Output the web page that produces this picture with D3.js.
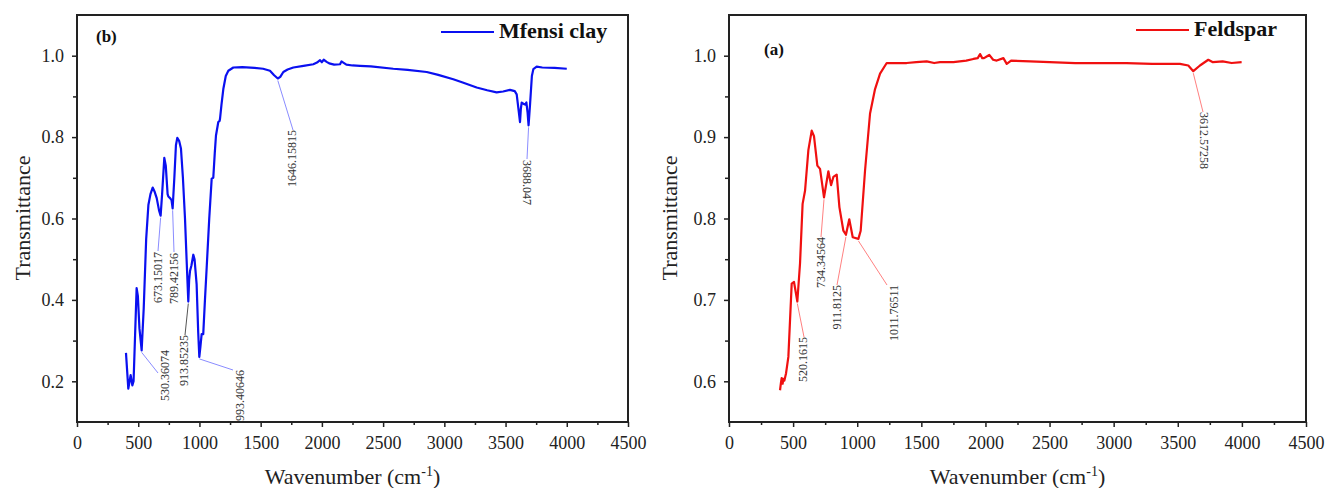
<!DOCTYPE html>
<html lang="en">
  <head>
    <meta charset="utf-8">
    <title>FTIR spectra</title>
    <script src="https://cdn.jsdelivr.net/npm/d3@7"></script>
    <style>
      body { margin: 0; background: #fff; }
      text { font-family: "Liberation Serif", "Times New Roman", serif; }
    </style>
  </head>
  <body>
    <script>
      // Mfensi clay (panel b)
      var clayWave = [400,419,438,452,462,487,497,510,528,545,565,583,600,618,635,651,670,683,695,713,725,740,746,760,772,781,795,808,819,835,849,865,882,895,909,916,923,935,950,960,977,990,999,1008,1018,1031,1045,1059,1080,1100,1113,1125,1135,1154,1165,1168,1180,1195,1215,1236,1277,1350,1450,1520,1576,1610,1640,1660,1685,1720,1767,1850,1930,1960,1985,2000,2015,2039,2060,2100,2148,2160,2175,2200,2250,2311,2400,2583,2700,2856,2950,3073,3150,3264,3350,3427,3480,3536,3575,3591,3605,3618,3625,3632,3645,3659,3670,3680,3688,3700,3715,3727,3754,3800,3900,4000];
      var clayT = [0.27,0.182,0.215,0.19,0.20,0.429,0.41,0.33,0.276,0.38,0.55,0.633,0.66,0.676,0.665,0.65,0.62,0.607,0.66,0.749,0.73,0.66,0.654,0.65,0.645,0.625,0.70,0.78,0.798,0.79,0.772,0.70,0.60,0.50,0.396,0.45,0.471,0.485,0.511,0.50,0.438,0.32,0.26,0.285,0.316,0.316,0.40,0.479,0.60,0.698,0.70,0.76,0.804,0.837,0.84,0.845,0.88,0.918,0.95,0.963,0.971,0.972,0.97,0.968,0.963,0.952,0.944,0.948,0.96,0.966,0.971,0.975,0.979,0.983,0.989,0.984,0.99,0.985,0.981,0.978,0.979,0.986,0.983,0.978,0.976,0.975,0.974,0.968,0.965,0.96,0.953,0.942,0.934,0.922,0.915,0.91,0.912,0.916,0.913,0.905,0.87,0.837,0.87,0.885,0.882,0.88,0.885,0.86,0.829,0.88,0.95,0.967,0.973,0.971,0.97,0.968];
      var clayPeaks = ["530.36074","673.15017","789.42156","913.85235","993.40646","1646.15815","3688.047"];
      var clayPeakAt = [528,683,781,909,999,1640,3688];

      // Feldspar (panel a)
      var feldWave = [398,405,411,418,424,432,445,463,489,507,533,554,574,593,619,645,663,689,710,741,775,796,814,840,861,892,912,938,965,1009,1027,1061,1100,1139,1178,1230,1300,1386,1460,1542,1600,1646,1750,1850,1906,1940,1958,1975,1989,2010,2030,2060,2088,2140,2166,2200,2348,2500,2700,2868,3100,3300,3517,3582,3621,3673,3738,3774,3850,3920,3998];
      var feldT = [0.589,0.598,0.604,0.597,0.603,0.601,0.61,0.63,0.72,0.722,0.698,0.745,0.818,0.834,0.884,0.908,0.901,0.865,0.861,0.826,0.858,0.841,0.851,0.854,0.814,0.785,0.78,0.799,0.777,0.775,0.785,0.859,0.929,0.959,0.978,0.991,0.991,0.991,0.992,0.993,0.991,0.992,0.992,0.994,0.996,0.997,1.002,0.997,0.997,0.999,1.001,0.995,0.994,0.997,0.99,0.994,0.993,0.992,0.991,0.991,0.991,0.99,0.99,0.988,0.981,0.988,0.995,0.992,0.993,0.991,0.992];
      var feldPeaks = ["520.1615","734.34564","911.8125","1011.76511","3612.57258"];
      var feldPeakAt = [533,741,912,1009,3621];

      var xTicks = [0,500,1000,1500,2000,2500,3000,3500,4000,4500];

      var svg = d3.select("body").append("svg")
                  .attr("width", 1327)
                  .attr("height", 488);

      function panel(o) {
        var x = d3.scaleLinear().domain([0, 4500]).range([o.left, o.right]);
        var y = d3.scaleLinear().domain(o.ydom).range([422, 15]);
        var g = svg.append("g");

        // axes
        g.append("g").attr("transform", "translate(0,422)")
          .call(d3.axisBottom(x).tickValues(d3.range(250, 4500, 500)).tickSize(3).tickFormat(""));
        g.append("g").attr("transform", "translate(0,422)")
          .call(d3.axisBottom(x).tickValues(xTicks).tickSize(5).tickPadding(9).tickFormat(d3.format("d")));
        g.append("g").attr("transform", "translate(" + o.left + ",0)")
          .call(d3.axisLeft(y).tickValues(o.minor).tickSize(4).tickFormat(""));
        g.append("g").attr("transform", "translate(" + o.left + ",0)")
          .call(d3.axisLeft(y).tickValues(o.major).tickSize(5).tickPadding(8).tickFormat(d3.format(".1f")));
        g.selectAll(".domain").remove();
        g.selectAll(".tick line").attr("stroke", "#222").attr("stroke-width", 1.5);
        g.selectAll(".tick text").attr("font-size", 18).attr("fill", "#222")
          .attr("font-family", "Liberation Serif, serif");

        g.append("rect").attr("x", o.left).attr("y", 15)
          .attr("width", o.right - o.left).attr("height", 407)
          .attr("fill", "none").attr("stroke", "#222").attr("stroke-width", 2);

        // leaders and peak labels: [leader end x, leader end y, text centre x, text top y, rotation, colour]
        o.peaks.forEach(function(p, i) {
          var w = o.peakAt[i];
          var j = d3.minIndex(o.wave, function(v) { return Math.abs(v - w); });
          var px = x(w), py = y(o.vals[j]);
          var lp = o.lab[i];
          g.append("line").attr("x1", px).attr("y1", py + 2).attr("x2", lp[0]).attr("y2", lp[1])
            .attr("stroke", lp[5] || o.lead).attr("stroke-width", 1);
          var rot = lp[4];
          g.append("text")
            .attr("transform", "translate(" + (lp[2] + (rot > 0 ? -4 : 4)) + "," + lp[3] + ") rotate(" + rot + ")")
            .attr("text-anchor", rot > 0 ? "start" : "end")
            .attr("font-size", 12).attr("fill", "#333")
            .text(p);
        });

        // spectrum
        g.append("path")
          .datum(d3.zip(o.wave, o.vals))
          .attr("fill", "none").attr("stroke", o.color).attr("stroke-width", 2.2)
          .attr("stroke-linejoin", "round")
          .attr("d", d3.line().x(function(d) { return x(d[0]); }).y(function(d) { return y(d[1]); }));

        // legend
        g.append("line").attr("x1", o.legX).attr("x2", o.legX + 53)
          .attr("y1", o.legY - 6).attr("y2", o.legY - 6)
          .attr("stroke", o.color).attr("stroke-width", 2);
        g.append("text").attr("x", o.legX + 58).attr("y", o.legY)
          .attr("font-size", 22).attr("font-weight", "bold").attr("fill", "#111").text(o.name);

        g.append("text").attr("x", o.tagX).attr("y", o.tagY)
          .attr("font-size", 17).attr("font-weight", "bold").attr("fill", "#111").text(o.tag);

        // titles
        g.append("text").attr("transform", "translate(" + o.ytitleX + ",218) rotate(-90)")
          .attr("text-anchor", "middle").attr("font-size", 22).attr("fill", "#222").text("Transmittance");
        var t = g.append("text").attr("x", (o.left + o.right) / 2).attr("y", 484)
          .attr("text-anchor", "middle").attr("font-size", 22).attr("fill", "#222");
        t.append("tspan").text("Wavenumber (cm");
        t.append("tspan").attr("dy", -8).attr("font-size", 14).text("-1");
        t.append("tspan").attr("dy", 8).text(")");
      }

      panel({
        left: 77, right: 628, ydom: [0.1, 1.1],
        major: [0.2, 0.4, 0.6, 0.8, 1.0], minor: [0.3, 0.5, 0.7, 0.9],
        wave: clayWave, vals: clayT, color: "#0a10f0", lead: "#8a8cff",
        peaks: clayPeaks, peakAt: clayPeakAt,
        lab: [[158, 373, 165, 350, -90], [158, 251, 158, 252, -90], [174, 252, 174, 253, -90],
              [185, 335, 184, 335, -90, "#555"], [233, 370, 240, 370, -90], [293, 130, 292, 130, -90],
              [527, 159, 527, 160, 90]],
        legX: 441, legY: 38, name: "Mfensi clay", tag: "(b)", tagX: 96, tagY: 42, ytitleX: 30
      });

      panel({
        left: 729, right: 1306, ydom: [0.55, 1.05],
        major: [0.6, 0.7, 0.8, 0.9, 1.0], minor: [0.65, 0.75, 0.85, 0.95],
        wave: feldWave, vals: feldT, color: "#f01010", lead: "#ff8080",
        peaks: feldPeaks, peakAt: feldPeakAt,
        lab: [[804, 337, 803, 337, -90], [821, 237, 821, 237, -90], [837, 285, 837, 285, -90],
              [887, 285, 894, 285, -90], [1203, 112, 1204, 112, 90]],
        legX: 1136, legY: 36, name: "Feldspar", tag: "(a)", tagX: 764, tagY: 55, ytitleX: 677
      });
    </script>
  </body>
</html>
